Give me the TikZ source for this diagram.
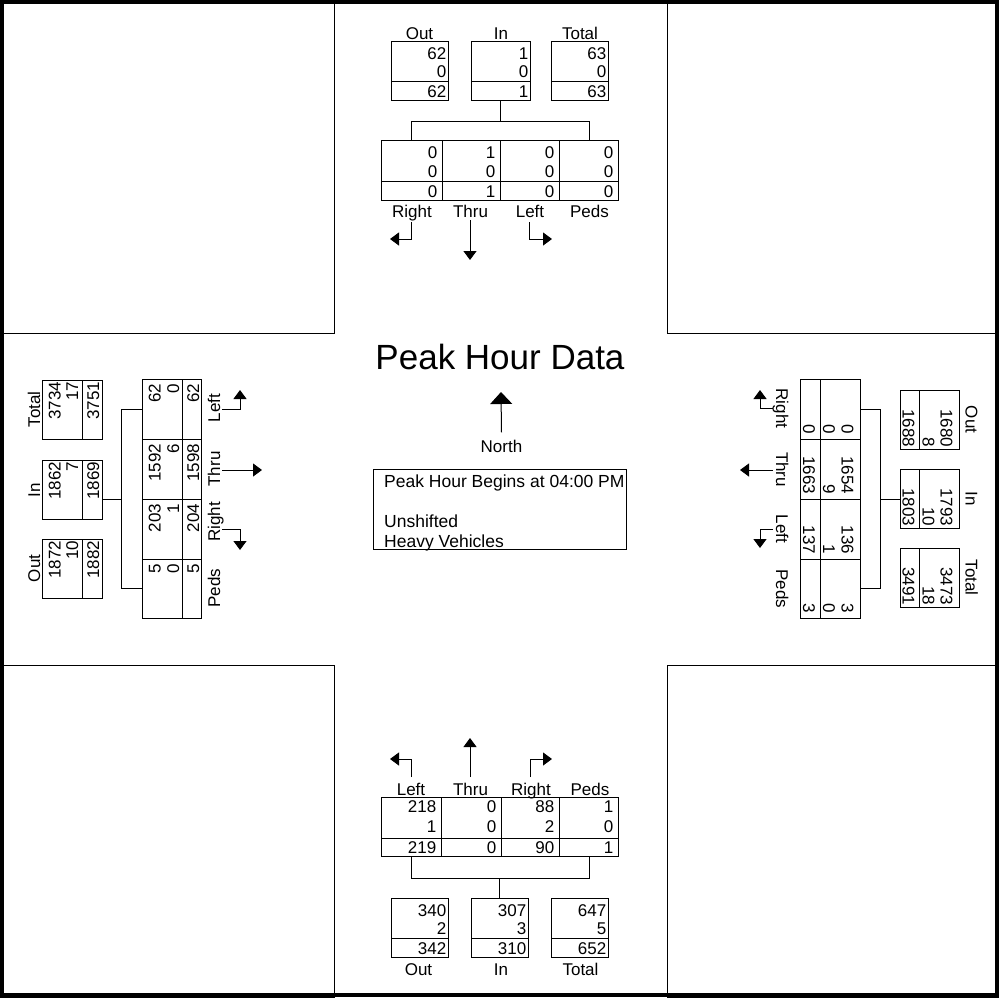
\documentclass[tikz,border=0pt]{standalone}
\usepackage{fontspec}
\setmainfont{Liberation Sans}
\usetikzlibrary{arrows.meta,fit}
\newcommand\fs{\fontsize{17}{20}\selectfont}
\tikzset{
  ln/.style={line width=1pt},
  bx/.style={draw, line width=1pt, inner sep=0pt},
  num/.style={anchor=base east, inner sep=0pt, font=\fs},
  lbl/.style={anchor=base, inner sep=0pt, font=\fs},
  mv/.style={line width=1pt, -{Triangle[width=13pt,length=9pt]}},
}
% horizontal box: name, x0, x1, y0, v1, v2, v3
\newcommand\hbx[7]{%
  \node[bx, fit={(#2,#4) (#3,{#4+59})}] (#1) {};
  \draw[ln] (#2,{#4+40}) -- (#3,{#4+40});
  \node[num] (#1a) at ({#3-1.5},{#4+18.5}) {#5};
  \node[num] (#1b) at ({#3-1.5},{#4+36.5}) {#6};
  \node[num] (#1c) at ({#3-1.5},{#4+56.5}) {#7};
}
% left rotated box: name, y0, v1, v2, v3
\newcommand\lbx[5]{%
  \node[bx, fit={(42,#2) (102,{#2+59})}] (#1) {};
  \draw[ln] (82,#2) -- (82,{#2+59});
  \node[num, rotate=90] (#1a) at (60.5,{#2+1.5}) {#3};
  \node[num, rotate=90] (#1b) at (78,{#2+1.5}) {#4};
  \node[num, rotate=90] (#1c) at (99,{#2+1.5}) {#5};
}
% right rotated box: name, y0, v1, v2, v3
\newcommand\rbx[5]{%
  \node[bx, fit={(900,#2) (959,{#2+59})}] (#1) {};
  \draw[ln] (919,#2) -- (919,{#2+59});
  \node[num, rotate=-90] (#1a) at (940.5,{#2+57.5}) {#3};
  \node[num, rotate=-90] (#1b) at (922.5,{#2+57.5}) {#4};
  \node[num, rotate=-90] (#1c) at (902.5,{#2+57.5}) {#5};
}
\begin{document}
\begin{tikzpicture}[x=1pt,y=-1pt]
\useasboundingbox (0,0) rectangle (999,997);
% frame and quadrants
\draw[line width=4pt] (2,2) rectangle (997,995);
\draw[ln] (0,0) rectangle (334,333);
\draw[ln] (667,0) rectangle (999,333);
\draw[ln] (0,665) rectangle (334,997);
\draw[ln] (667,665) rectangle (999,997);

% ---------------- top approach ----------------
\hbx{tOut}{391}{448}{41}{62}{0}{62}
\hbx{tIn}{471}{530}{41}{1}{0}{1}
\hbx{tTot}{551}{608}{41}{63}{0}{63}
\node[lbl] (tOutL) at (419.5,39.5) {Out};
\node[lbl] (tInL) at (501,39.5) {In};
\node[lbl] (tTotL) at (580,39.5) {Total};
\node[bx, fit={(381,140) (618,200)}] (tT) {};
\draw[ln] (381,181) -- (618,181);
\foreach \x in {442,500,559} \draw[ln] (\x,140) -- (\x,200);
\foreach \x/\a/\b/\c/\n in {442/0/0/0/1, 500/1/0/1/2, 559/0/0/0/3, 618/0/0/0/4} {
  \node[num] (tT-\n-a) at (\x-4.5,158) {\a};
  \node[num] (tT-\n-b) at (\x-4.5,177) {\b};
  \node[num] (tT-\n-c) at (\x-4.5,197) {\c};
}
\node[lbl] (tR) at (412,217) {Right};
\node[lbl] (tTh) at (470.5,217) {Thru};
\node[lbl] (tL) at (530,217) {Left};
\node[lbl] (tP) at (589.5,217) {Peds};
\draw[ln] (tIn.south) -- (tIn.south |- 0,121);
\draw[ln] (411,140) |- (589,121) -- (589,140);
\draw[mv] (411,222) |- (390,239);
\draw[mv] (470,220) -- (470,260);
\draw[mv] (529,222) |- (552,239);

% ---------------- bottom approach ----------------
\hbx{bOut}{391}{448}{898}{340}{2}{342}
\hbx{bIn}{471}{528}{898}{307}{3}{310}
\hbx{bTot}{551}{608}{898}{647}{5}{652}
\node[lbl] (bOutL) at (418.5,975) {Out};
\node[lbl] (bInL) at (501,975) {In};
\node[lbl] (bTotL) at (580.5,975) {Total};
\node[bx, fit={(381,797) (618,856)}] (bT) {};
\draw[ln] (381,838) -- (618,838);
\foreach \x in {441,501,559} \draw[ln] (\x,797) -- (\x,856);
\foreach \x/\a/\b/\c/\n in {441/218/1/219/1, 501/0/0/0/2, 559/88/2/90/3, 618/1/0/1/4} {
  \node[num] (bT-\n-a) at (\x-4.5,812) {\a};
  \node[num] (bT-\n-b) at (\x-4.5,832.5) {\b};
  \node[num] (bT-\n-c) at (\x-4.5,853) {\c};
}
\node[lbl] (bL) at (411,795) {Left};
\node[lbl] (bTh) at (470.5,795) {Thru};
\node[lbl] (bR) at (531,795) {Right};
\node[lbl] (bP) at (590,795) {Peds};
\draw[ln] (bIn.north) -- (bIn.north |- 0,878);
\draw[ln] (411,856) |- (589,878) -- (589,856);
\draw[mv] (411,777) |- (390,759);
\draw[mv] (470,777) -- (470,738);
\draw[mv] (530,777) |- (552,759);

% ---------------- left approach ----------------
\lbx{lTot}{380}{3734}{17}{3751}
\lbx{lIn}{460}{1862}{7}{1869}
\lbx{lOut}{539}{1872}{10}{1882}
\node[lbl, rotate=90] (lTotL) at (40,409.5) {Total};
\node[lbl, rotate=90] (lInL) at (40,490) {In};
\node[lbl, rotate=90] (lOutL) at (40,568.5) {Out};
\node[bx, fit={(142,379) (201,618)}] (lT) {};
\draw[ln] (182,379) -- (182,618);
\foreach \y in {439,499,559} \draw[ln] (142,\y) -- (201,\y);
\foreach \y/\a/\b/\c/\n in {379/62/0/62/1, 439/1592/6/1598/2, 499/203/1/204/3, 559/5/0/5/4} {
  \node[num, rotate=90] (lT-\n-a) at (160.5,\y+4.5) {\a};
  \node[num, rotate=90] (lT-\n-b) at (179,\y+4.5) {\b};
  \node[num, rotate=90] (lT-\n-c) at (199,\y+4.5) {\c};
}
\node[lbl, rotate=90] (lL) at (220,408) {Left};
\node[lbl, rotate=90] (lTh) at (220,469) {Thru};
\node[lbl, rotate=90] (lR) at (220,522) {Right};
\node[lbl, rotate=90] (lP) at (220,588) {Peds};
\draw[ln] (lIn.east |- 0,499) -- (121,499);
\draw[ln] (142,409) -| (121,588) -- (142,588);
\draw[mv] (222,409) -| (240,390);
\draw[mv] (222,470) -- (262,470);
\draw[mv] (222,529) -| (240,550);

% ---------------- right approach ----------------
\rbx{rOut}{390}{1680}{8}{1688}
\rbx{rIn}{469}{1793}{10}{1803}
\rbx{rTot}{548}{3473}{18}{3491}
\node[lbl, rotate=-90] (rOutL) at (965.5,419.5) {Out};
\node[lbl, rotate=-90] (rInL) at (965.5,498.5) {In};
\node[lbl, rotate=-90] (rTotL) at (965.5,577.5) {Total};
\node[bx, fit={(800,379) (860,618)}] (rT) {};
\draw[ln] (820,379) -- (820,618);
\foreach \y in {439,499,559} \draw[ln] (800,\y) -- (860,\y);
\foreach \y/\a/\b/\c/\n in {439/0/0/0/1, 499/1654/9/1663/2, 559/136/1/137/3, 618/3/0/3/4} {
  \node[num, rotate=-90] (rT-\n-a) at (841.5,\y-4.5) {\a};
  \node[num, rotate=-90] (rT-\n-b) at (823,\y-4.5) {\b};
  \node[num, rotate=-90] (rT-\n-c) at (803,\y-4.5) {\c};
}
\node[lbl, rotate=-90] (rR) at (776,408.5) {Right};
\node[lbl, rotate=-90] (rTh) at (776,469.5) {Thru};
\node[lbl, rotate=-90] (rL) at (776,529) {Left};
\node[lbl, rotate=-90] (rP) at (776,589) {Peds};
\draw[ln] (rIn.west |- 0,499) -- (880,499);
\draw[ln] (860,409) -| (880,588) -- (860,588);
\draw[mv] (773,408) -| (760,390);
\draw[mv] (773,470) -- (740,470);
\draw[mv] (773,529) -| (760,548);

% ---------------- centre ----------------
\node[anchor=base, inner sep=0pt, font=\fontsize{35}{40}\selectfont] (title) at (500,369) {Peak Hour Data};
\node[lbl] (north) at (501.5,452) {North};
\draw[line width=1pt, -{Triangle[width=22pt,length=12pt]}] (north.north) ++(0,-7) coordinate (nbase) -- (501,392);
\node[bx, fit={(373,469) (626,549)}] (info) {};
\node[anchor=base west, inner sep=0pt, font=\fontsize{17.5}{20}\selectfont] (info1) at (384,487) {Peak Hour Begins at 04:00 PM};
\node[anchor=base west, inner sep=0pt, font=\fontsize{17.5}{20}\selectfont] (info2) at (384,527) {Unshifted};
\node[anchor=base west, inner sep=0pt, font=\fontsize{17.5}{20}\selectfont] (info3) at (384,547) {Heavy Vehicles};
\end{tikzpicture}
\end{document}
